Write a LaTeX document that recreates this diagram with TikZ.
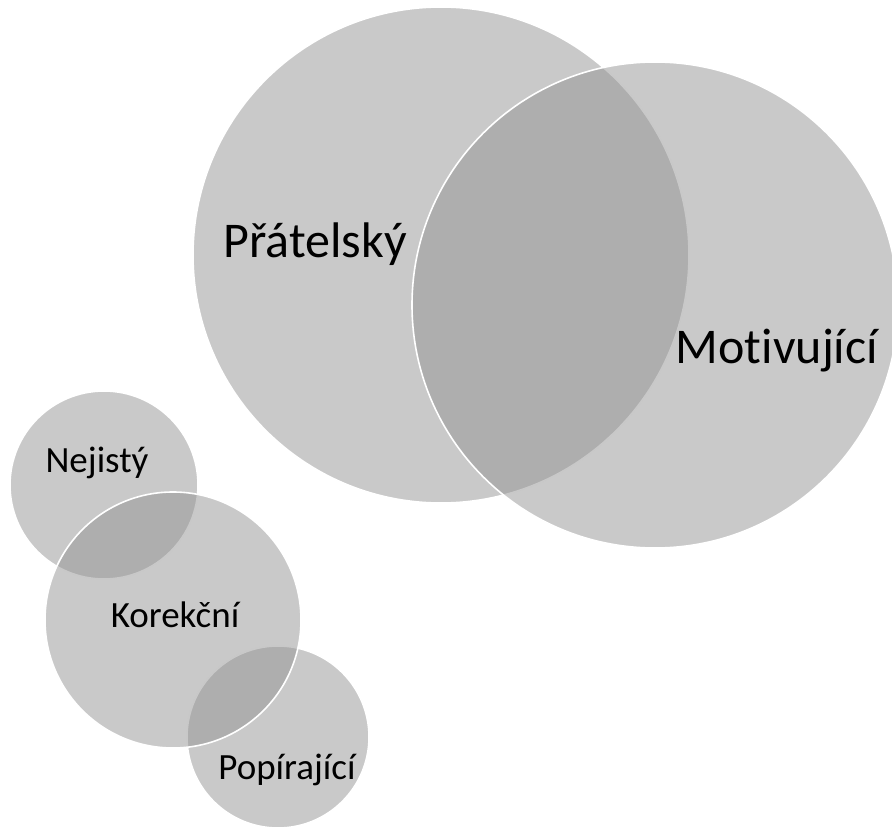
\documentclass[tikz,border=0pt]{standalone}
\usepackage{fontspec}
\setmainfont{Carlito}[Ligatures=NoCommon]
\usepackage{tikz}
\usetikzlibrary{calc,math}
\definecolor{bubblegray}{RGB}{147,147,147}

\begin{document}
\begin{tikzpicture}[x=1pt,y=-1pt,
    bubble/.style={circle, inner sep=0pt, fill=bubblegray, fill opacity=0.5, draw=white, line width=1.6pt},
    bigword/.style={anchor=base, inner sep=0pt, font=\fontsize{50}{60}\selectfont},
    smallword/.style={anchor=base, inner sep=0pt, font=\fontsize{37}{44}\selectfont}]
        \useasboundingbox (0,0) rectangle (892,832);

        % big pair
        \node[bubble, minimum size=496pt] (pratelsky) at (441,255) {};
        \node[bubble, minimum size=486pt] (motivujici) at (655,305) {};
        \node[bigword] (pratelsky-text) at (315,257) {Přátelský};
        \node[bigword] (motivujici-text) at (777,363) {Motivující};

        % small chain
        \node[bubble, minimum size=188pt] (nejisty) at (104,485) {};
        \node[bubble, minimum size=182pt] (popirajici) at (278,737) {};
        \node[bubble, minimum size=256pt] (korekcni) at (173,620) {};
        \node[smallword] (nejisty-text) at (97,472) {Nejistý};
        \node[smallword] (korekcni-text) at (175,627) {Korekční};
        \node[smallword] (popirajici-text) at (287,779) {Popírající};
    \end{tikzpicture}
\end{document}
